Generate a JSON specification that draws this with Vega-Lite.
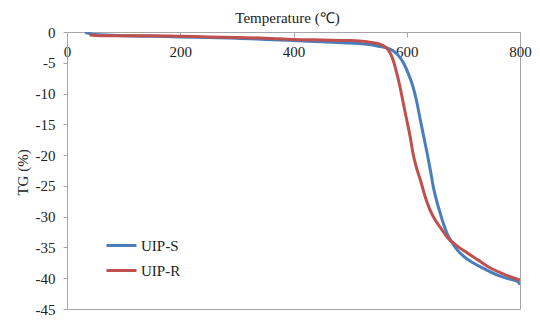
{
  "$schema": "https://vega.github.io/schema/vega-lite/v6.json",
  "width": 453,
  "height": 277,
  "autosize": {"type": "none"},
  "padding": {"left": 67, "top": 32, "right": 20, "bottom": 11},
  "background": "white",
  "config": {
    "font": "Liberation Serif",
    "view": {"stroke": "#A6A6A6", "strokeWidth": 1},
    "axis": {
      "grid": false,
      "domainColor": "#A6A6A6",
      "tickColor": "#A6A6A6",
      "labelColor": "#222222",
      "titleColor": "#222222",
      "labelFont": "Liberation Serif",
      "titleFont": "Liberation Serif",
      "labelFontSize": 15,
      "titleFontSize": 15,
      "titleFontWeight": "normal"
    },
    "legend": {"labelFont": "Liberation Serif"}
  },
  "data": {
    "values": [
      {"T": 32, "TG": -0.1, "series": "UIP-S"},
      {"T": 50, "TG": -0.4, "series": "UIP-S"},
      {"T": 100, "TG": -0.6, "series": "UIP-S"},
      {"T": 150, "TG": -0.7, "series": "UIP-S"},
      {"T": 200, "TG": -0.8, "series": "UIP-S"},
      {"T": 250, "TG": -0.9, "series": "UIP-S"},
      {"T": 300, "TG": -1.0, "series": "UIP-S"},
      {"T": 350, "TG": -1.2, "series": "UIP-S"},
      {"T": 400, "TG": -1.4, "series": "UIP-S"},
      {"T": 450, "TG": -1.6, "series": "UIP-S"},
      {"T": 500, "TG": -1.8, "series": "UIP-S"},
      {"T": 530, "TG": -2.0, "series": "UIP-S"},
      {"T": 550, "TG": -2.3, "series": "UIP-S"},
      {"T": 565, "TG": -2.6, "series": "UIP-S"},
      {"T": 575, "TG": -3.0, "series": "UIP-S"},
      {"T": 585, "TG": -3.8, "series": "UIP-S"},
      {"T": 594, "TG": -5.0, "series": "UIP-S"},
      {"T": 603, "TG": -6.8, "series": "UIP-S"},
      {"T": 611, "TG": -8.9, "series": "UIP-S"},
      {"T": 618, "TG": -11.5, "series": "UIP-S"},
      {"T": 624, "TG": -14.3, "series": "UIP-S"},
      {"T": 630, "TG": -17.0, "series": "UIP-S"},
      {"T": 636, "TG": -19.7, "series": "UIP-S"},
      {"T": 642, "TG": -22.6, "series": "UIP-S"},
      {"T": 647, "TG": -25.2, "series": "UIP-S"},
      {"T": 653, "TG": -27.5, "series": "UIP-S"},
      {"T": 659, "TG": -29.4, "series": "UIP-S"},
      {"T": 665, "TG": -31.2, "series": "UIP-S"},
      {"T": 671, "TG": -32.7, "series": "UIP-S"},
      {"T": 680, "TG": -34.2, "series": "UIP-S"},
      {"T": 689, "TG": -35.4, "series": "UIP-S"},
      {"T": 700, "TG": -36.4, "series": "UIP-S"},
      {"T": 717, "TG": -37.5, "series": "UIP-S"},
      {"T": 740, "TG": -38.6, "series": "UIP-S"},
      {"T": 760, "TG": -39.5, "series": "UIP-S"},
      {"T": 780, "TG": -40.1, "series": "UIP-S"},
      {"T": 795, "TG": -40.5, "series": "UIP-S"},
      {"T": 800, "TG": -41.0, "series": "UIP-S"},
      {"T": 40, "TG": -0.5, "series": "UIP-R"},
      {"T": 60, "TG": -0.6, "series": "UIP-R"},
      {"T": 100, "TG": -0.6, "series": "UIP-R"},
      {"T": 150, "TG": -0.6, "series": "UIP-R"},
      {"T": 200, "TG": -0.7, "series": "UIP-R"},
      {"T": 250, "TG": -0.8, "series": "UIP-R"},
      {"T": 300, "TG": -0.9, "series": "UIP-R"},
      {"T": 350, "TG": -1.0, "series": "UIP-R"},
      {"T": 400, "TG": -1.2, "series": "UIP-R"},
      {"T": 450, "TG": -1.3, "series": "UIP-R"},
      {"T": 500, "TG": -1.4, "series": "UIP-R"},
      {"T": 530, "TG": -1.6, "series": "UIP-R"},
      {"T": 550, "TG": -1.9, "series": "UIP-R"},
      {"T": 560, "TG": -2.3, "series": "UIP-R"},
      {"T": 568, "TG": -3.0, "series": "UIP-R"},
      {"T": 575, "TG": -4.3, "series": "UIP-R"},
      {"T": 581, "TG": -6.2, "series": "UIP-R"},
      {"T": 588, "TG": -8.9, "series": "UIP-R"},
      {"T": 594, "TG": -11.6, "series": "UIP-R"},
      {"T": 600, "TG": -14.3, "series": "UIP-R"},
      {"T": 606, "TG": -17.0, "series": "UIP-R"},
      {"T": 611, "TG": -19.7, "series": "UIP-R"},
      {"T": 617, "TG": -22.0, "series": "UIP-R"},
      {"T": 624, "TG": -24.0, "series": "UIP-R"},
      {"T": 632, "TG": -26.6, "series": "UIP-R"},
      {"T": 641, "TG": -28.9, "series": "UIP-R"},
      {"T": 650, "TG": -30.5, "series": "UIP-R"},
      {"T": 659, "TG": -31.7, "series": "UIP-R"},
      {"T": 671, "TG": -33.3, "series": "UIP-R"},
      {"T": 688, "TG": -34.7, "series": "UIP-R"},
      {"T": 707, "TG": -35.9, "series": "UIP-R"},
      {"T": 727, "TG": -37.1, "series": "UIP-R"},
      {"T": 747, "TG": -38.3, "series": "UIP-R"},
      {"T": 770, "TG": -39.3, "series": "UIP-R"},
      {"T": 790, "TG": -40.0, "series": "UIP-R"},
      {"T": 800, "TG": -40.3, "series": "UIP-R"}
    ]
  },
  "mark": {"type": "line", "strokeWidth": 3, "interpolate": "monotone", "clip": true},
  "encoding": {
    "x": {
      "field": "T",
      "type": "quantitative",
      "scale": {"domain": [0, 800], "nice": false, "zero": false},
      "axis": {
        "orient": "top",
        "values": [0, 200, 400, 600, 800],
        "title": "Temperature (℃)",
        "titleX": 220,
        "titleY": -10,
        "titleBaseline": "alphabetic",
        "tickSize": -5,
        "labelBaseline": "top",
        "labelPadding": -7,
        "labelFlush": false
      }
    },
    "y": {
      "field": "TG",
      "type": "quantitative",
      "scale": {"domain": [-45, 0], "nice": false},
      "axis": {
        "values": [0, -5, -10, -15, -20, -25, -30, -35, -40, -45],
        "labelExpr": "'' + datum.value",
        "title": "TG (%)",
        "titleX": -45,
        "titleY": 140,
        "titleBaseline": "middle",
        "tickSize": 4,
        "labelPadding": 8,
        "labelFlush": false
      }
    },
    "color": {
      "field": "series",
      "type": "nominal",
      "scale": {"domain": ["UIP-S", "UIP-R"], "range": ["#4A7EBB", "#C0504D"]},
      "legend": {
        "title": null,
        "orient": "none",
        "legendX": 38,
        "legendY": 197,
        "symbolType": "stroke",
        "symbolSize": 900,
        "symbolStrokeWidth": 3,
        "labelFontSize": 15,
        "labelColor": "#222222",
        "labelOffset": 3,
        "rowPadding": -3
      }
    }
  }
}
